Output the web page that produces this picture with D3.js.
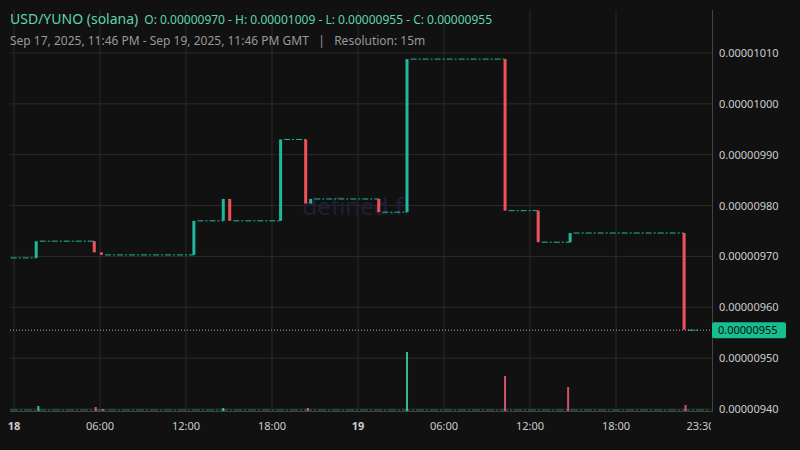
<!DOCTYPE html><html><head><meta charset="utf-8"><script src="https://cdn.jsdelivr.net/npm/d3@7"></script>
<style>body{margin:0;background:#111}svg{display:block;font-family:"Noto Sans",sans-serif}</style></head><body><svg id="c" width="800" height="450"></svg>
<script>
const candleTimes = [1.55, 5.6, 6.1, 12.55, 14.6, 15.05, 18.6, 20.35, 20.7, 25.45, 27.42, 34.26, 36.57, 38.8, 46.75];
const opens       = [969.7, 973.0, 970.8, 970.3, 977.0, 981.3, 977.0, 993.0, 980.4, 981.3, 978.7, 1008.8, 979.0, 972.8, 974.6];
const candleClose = [973.0, 970.8, 970.3, 977.0, 981.3, 977.0, 993.0, 980.4, 981.3, 978.7, 1008.8, 979.0, 972.8, 974.6, 955.6];
const flatStart = [-0.23, 1.8, 6.35, 12.8, 15.3, 18.85, 20.95, 25.7, 27.67, 34.51, 36.82, 39.05, 47.0];
const flatEnd   = [1.55, 5.6, 12.55, 14.6, 18.6, 20.35, 25.45, 27.42, 34.26, 36.57, 38.8, 46.75, 47.77];
const flatPrice = [969.7, 973.0, 970.3, 977.0, 977.0, 993.0, 981.3, 978.7, 1008.8, 979.0, 972.8, 974.6, 955.5];
const volTimes = [1.7, 5.7, 6.2, 14.6, 20.5, 27.42, 34.26, 38.66, 46.85];
const volValues = [5, 4, 2, 3, 3, 59, 35, 24, 6];
const volUp = [1, 0, 0, 1, 0, 1, 0, 0, 0];
const priceTicks = [940, 950, 960, 970, 980, 990, 1000, 1010];
const timeTicks = [0, 6, 12, 18, 24, 30, 36, 42, 47.9];
const timeLabels = ["18", "06:00", "12:00", "18:00", "19", "06:00", "12:00", "18:00", "23:30"];

const svg = d3.select("#c");
const G = "#1fb89d", R = "#f0525a";
const x = d3.scaleLinear().domain([0, 48]).range([14, 702]);
const y = d3.scaleLinear().domain([940, 1010]).range([409, 53]);
const vy = d3.scaleLinear().domain([0, 60]).range([411, 351]);

svg.append("g").selectAll("line").data(timeTicks.slice(0,8)).join("line")
  .attr("x1", d => x(d)).attr("x2", d => x(d)).attr("y1", 10).attr("y2", 412).attr("stroke", "#2b2b2b");
svg.append("g").selectAll("line").data(priceTicks).join("line")
  .attr("x1", 10).attr("x2", 712).attr("y1", d => y(d)).attr("y2", d => y(d)).attr("stroke", "#2b2b2b");
svg.append("line").attr("x1", 712.5).attr("x2", 712.5).attr("y1", 10).attr("y2", 412).attr("stroke", "#444");
svg.append("line").attr("x1", 10).attr("x2", 712).attr("y1", 411.5).attr("y2", 411.5).attr("stroke", "#444");

svg.append("text").attr("x", 356).attr("y", 215).attr("text-anchor", "middle").attr("font-size", 24)
  .attr("fill", "#221d38").text("defined.fi");

svg.append("line").attr("x1", 10).attr("x2", 710).attr("y1", 410).attr("y2", 410)
  .attr("stroke", G).attr("stroke-opacity", 0.6).attr("stroke-dasharray", "8,2,2,2");
svg.append("g").selectAll("rect").data(volTimes).join("rect")
  .attr("x", d => x(d) - 1).attr("width", 2)
  .attr("y", (d, i) => vy(volValues[i])).attr("height", (d, i) => 411 - vy(volValues[i]))
  .attr("fill", (d, i) => volUp[i] ? "#3fd6b0" : "#f0607a").attr("opacity", 0.85);

svg.append("g").selectAll("line").data(flatStart).join("line")
  .attr("x1", d => x(d)).attr("x2", (d, i) => x(flatEnd[i]))
  .attr("y1", (d, i) => y(flatPrice[i])).attr("y2", (d, i) => y(flatPrice[i]))
  .attr("stroke", G).attr("stroke-width", 1).attr("stroke-dasharray", "6,2,2,2");

svg.append("g").selectAll("rect").data(candleTimes).join("rect")
  .attr("x", d => x(d) - 1.5).attr("width", 3)
  .attr("y", (d, i) => y(Math.max(opens[i], candleClose[i])))
  .attr("height", (d, i) => Math.max(2, Math.abs(y(opens[i]) - y(candleClose[i]))))
  .attr("fill", (d, i) => candleClose[i] >= opens[i] ? G : R);

svg.append("line").attr("x1", 10).attr("x2", 712).attr("y1", y(955.5)).attr("y2", y(955.5))
  .attr("stroke", "#aaa").attr("stroke-dasharray", "1,2");
svg.append("rect").attr("x", 712).attr("y", y(955.5) - 8).attr("width", 74).attr("height", 16).attr("rx", 2).attr("fill", "#14c08f");
svg.append("text").attr("x", 718).attr("y", y(955.5) + 4).attr("font-size", 11).attr("fill", "#0c0c0c").text("0.00000955");

svg.append("g").selectAll("text").data(priceTicks).join("text")
  .attr("x", 719).attr("y", d => y(d) + 4).attr("font-size", 11).attr("fill", "#ccc")
  .text(d => (d / 1e8).toFixed(8));

svg.append("g").selectAll("text").data(timeTicks).join("text")
  .attr("x", d => x(d)).attr("y", 430).attr("text-anchor", "middle")
  .attr("font-size", 11).attr("font-weight", (d,i)=> (i==0||i==4)?"bold":"normal").attr("fill", "#ccc")
  .text((d,i) => timeLabels[i]);
svg.append("rect").attr("x", 711).attr("y", 415).attr("width", 89).attr("height", 30).attr("fill", "#111");
svg.append("rect").attr("x", 0).attr("y", 415).attr("width", 8).attr("height", 30).attr("fill", "#111");

const h = svg.append("text").attr("x", 10).attr("y", 24).attr("fill", "#5fd3b0");
h.append("tspan").attr("font-size", 14).text("USD/YUNO (solana)");
h.append("tspan").attr("dx", 6).attr("font-size", 12).text("O: 0.00000970 - H: 0.00001009 - L: 0.00000955 - C: 0.00000955");
svg.append("text").attr("x", 10).attr("y", 45).attr("font-size", 12).attr("fill", "#999").attr("xml:space","preserve")
  .text("Sep 17, 2025, 11:46 PM - Sep 19, 2025, 11:46 PM GMT   |   Resolution: 15m");
</script></body></html>
